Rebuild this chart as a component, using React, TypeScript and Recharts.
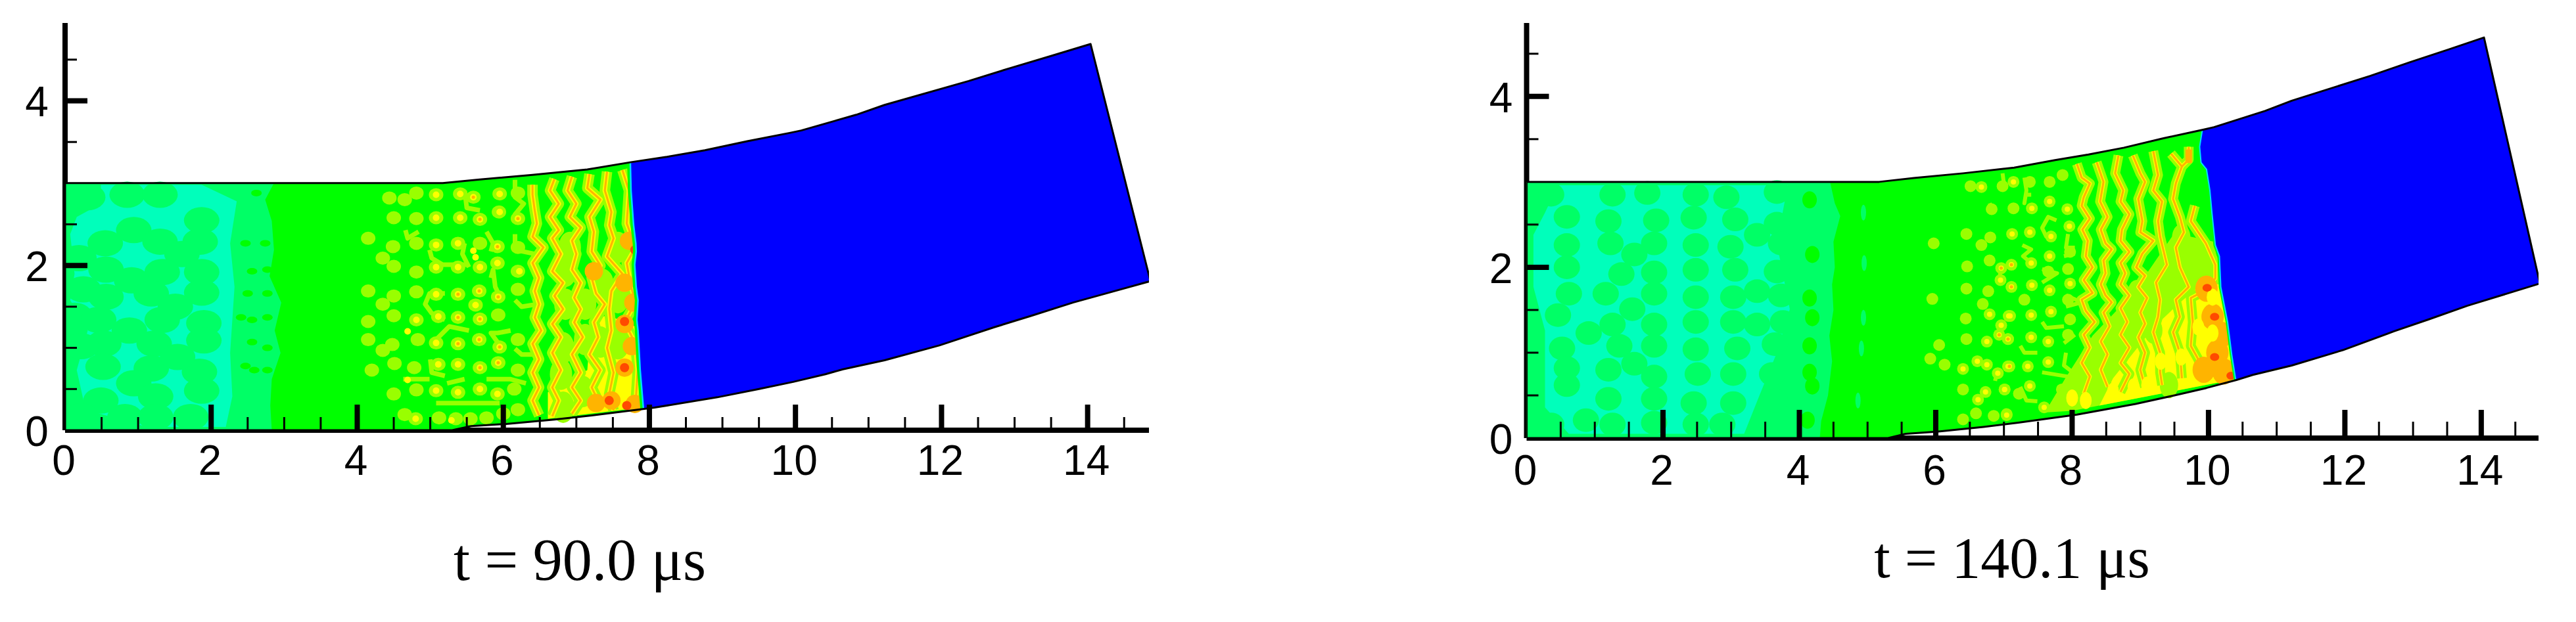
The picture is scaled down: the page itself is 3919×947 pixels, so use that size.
import { ScatterChart, Scatter, XAxis, YAxis } from "recharts";

// Contour snapshots of a detonation front in a bent channel, two time steps.
type Pair = [number, number];
const xy = (list: Pair[]) => list.map(([x, y]) => ({ x, y }));

const xTicks = [0, 0.5, 1, 1.5, 2, 2.5, 3, 3.5, 4, 4.5, 5, 5.5, 6, 6.5, 7, 7.5, 8, 8.5, 9, 9.5, 10, 10.5, 11, 11.5, 12, 12.5, 13, 13.5, 14, 14.5];
const yTicks = [0, 0.5, 1, 1.5, 2, 2.5, 3.5, 4, 4.5];

// channel walls, same geometry in both frames
const wallTop: Pair[] = [[0, 3], [5.17, 3], [5.68, 3.045], [6.4, 3.1], [7.15, 3.166], [7.75, 3.255], [8.24, 3.32], [8.76, 3.4], [9.34, 3.51], [9.92, 3.61], [10.08, 3.64], [10.83, 3.83], [11.22, 3.95], [12.37, 4.24], [12.95, 4.4], [13.52, 4.55], [14.04, 4.69]];
const wallEnd: Pair[] = [[14.86, 1.81]];
const wallBottom: Pair[] = [[14.33, 1.68], [13.8, 1.55], [13.23, 1.39], [12.72, 1.25], [11.97, 1.03], [11.22, 0.85], [10.65, 0.74], [10.41, 0.68], [9.97, 0.587], [9.5, 0.5], [8.93, 0.4], [8.07, 0.275], [7.93, 0.26], [7.21, 0.18], [6.7, 0.13], [6.04, 0.076], [5.56, 0.05], [5.3, 0], [0, 0]];
const wallOutline: Pair[] = [...wallTop, ...wallEnd, ...wallBottom, [0, 3]];

// ---- t = 90.0 frame ----
const earlySpring: Pair[] = [[0, 3], [2.86, 3], [2.74, 2.8], [2.83, 2.54], [2.86, 2.19], [2.8, 1.87], [2.96, 1.55], [2.87, 1.21], [2.95, 0.94], [2.83, 0.62], [2.81, 0.3], [2.83, 0], [0, 0]];
const earlyAqua: Pair[] = [[0.49, 2.98], [1.87, 2.98], [2.35, 2.78], [2.26, 2.27], [2.32, 1.74], [2.26, 0.94], [2.29, 0.41], [2.2, 0.04], [1.12, 0.04], [0.28, 0.25], [0.16, 0.73], [0.31, 1.21], [0.07, 1.58], [0.13, 1.9], [0.07, 2.38], [0.16, 2.59], [0.49, 2.75]];
const earlyBlobs: Pair[] = [[0.31, 2.83], [0.85, 2.86], [1.3, 2.86], [1.87, 2.55], [0.94, 2.43], [0.55, 2.27], [1.3, 2.29], [1.85, 2.29], [1.6, 2.14], [0.19, 2.09], [0.56, 1.95], [1.33, 1.92], [1.87, 1.92], [0.91, 1.82], [0.25, 1.71], [1.18, 1.66], [1.87, 1.67], [0.56, 1.62], [1.51, 1.5], [0.13, 1.39], [0.46, 1.34], [1.33, 1.34], [1.9, 1.3], [0.88, 1.21], [0.53, 1.05], [1.22, 1.05], [1.9, 1.09], [0.22, 1.02], [0.52, 0.77], [1.18, 0.75], [1.84, 0.71], [1.54, 0.89], [0.94, 0.57], [1.87, 0.48], [0.49, 0.36], [1.24, 0.41], [1.24, 0.16], [0.82, 0.16], [0.22, 0.17], [1.72, 0.16]];
const earlyPureBits: Pair[] = [[2.47, 2.27], [2.56, 1.93], [2.5, 1.66], [2.41, 1.37], [2.56, 1.34], [2.56, 1.07], [2.47, 0.78], [2.59, 0.73], [2.62, 2.88], [2.74, 2.27], [2.77, 1.95], [2.77, 1.66], [2.77, 1.37], [2.77, 1.0], [2.77, 0.73]];
const earlyLime: Pair[] = [
  [4.15, 2.33], [4.35, 2.09], [4.15, 1.69], [4.35, 1.53], [4.15, 1.32], [4.15, 1.1], [4.35, 0.97], [4.2, 0.73],
  [4.44, 2.82], [4.65, 2.8], [4.81, 2.88], [5.08, 2.86], [5.41, 2.87], [5.59, 2.83], [5.95, 2.87], [6.2, 2.88],
  [4.5, 2.58], [4.81, 2.57], [5.08, 2.58], [5.41, 2.58], [5.68, 2.56], [5.94, 2.65], [6.2, 2.57],
  [4.49, 2.23], [4.81, 2.27], [5.08, 2.25], [5.38, 2.27], [5.68, 2.27], [5.92, 2.23], [6.2, 2.22],
  [4.5, 1.99], [4.81, 1.92], [5.08, 1.98], [5.38, 1.98], [5.68, 1.98], [5.92, 2.03], [6.2, 1.93],
  [4.5, 1.63], [4.81, 1.68], [5.08, 1.65], [5.38, 1.65], [5.67, 1.69], [5.93, 1.62], [6.2, 1.71],
  [4.5, 1.39], [4.81, 1.34], [5.11, 1.38], [5.38, 1.37], [5.68, 1.35], [5.62, 1.52], [5.93, 1.4],
  [4.48, 1.04], [4.83, 1.1], [5.08, 1.06], [5.38, 1.05], [5.67, 1.1], [5.95, 1.01], [6.2, 1.1],
  [4.51, 0.81], [4.78, 0.76], [5.11, 0.8], [5.38, 0.8], [5.68, 0.76], [5.93, 0.82], [6.2, 0.73],
  [4.5, 0.44], [4.81, 0.49], [5.08, 0.48], [5.38, 0.46], [5.68, 0.5], [5.92, 0.44], [6.15, 0.5],
  [4.65, 0.19], [4.8, 0.14], [5.12, 0.15], [5.35, 0.14], [5.55, 0.14], [5.77, 0.15], [6.0, 0.2], [6.2, 0.25],
];
const earlyLimeLinks: Pair[][] = [
  [[5.2, 1.66], [4.99, 1.66], [4.93, 1.53], [5.02, 1.42], [5.2, 1.34]],
  [[4.99, 2.19], [5.02, 2.09], [5.17, 2.01], [5.5, 2.01]],
  [[5.08, 1.1], [5.26, 1.26], [5.53, 1.21]],
  [[5.08, 0.33], [5.95, 0.33]],
  [[5.47, 2.91], [5.5, 2.7], [5.68, 2.67]],
  [[5.83, 1.85], [5.86, 1.95], [5.89, 1.74], [5.95, 1.63]],
  [[6.16, 3.04], [6.16, 2.83], [6.28, 2.75], [6.16, 2.62], [6.16, 2.54]],
  [[6.16, 2.38], [6.16, 2.19], [6.43, 2.14]],
  [[6.16, 1.58], [6.25, 1.5], [6.46, 1.53]],
  [[6.16, 0.99], [6.25, 0.92], [6.43, 0.92]],
  [[5.77, 0.62], [6.1, 0.62], [6.31, 0.57]],
  [[5.47, 2.27], [5.44, 2.14], [5.53, 1.98]],
  [[5.77, 2.41], [5.86, 2.27], [5.83, 2.17]],
  [[6.1, 1.21], [5.92, 1.18], [5.83, 1.18], [5.92, 1.07]],
  [[5.23, 0.57], [5.47, 0.62]],
  [[4.66, 2.43], [4.69, 2.33], [4.84, 2.41]],
  [[4.63, 0.62], [4.99, 0.62]],
  [[5.0, 0.86], [5.02, 0.7], [5.2, 0.66]],
];
const earlyYellow: Pair[] = [[5.08, 2.86], [5.41, 2.87], [5.95, 2.87], [5.59, 2.83], [5.08, 2.58], [5.41, 2.58], [5.68, 2.56], [6.2, 2.57], [5.95, 2.65], [5.38, 2.27], [5.08, 2.25], [5.59, 2.18], [5.92, 2.23], [5.62, 2.1], [5.38, 1.98], [5.08, 1.98], [5.68, 1.98], [5.92, 2.03], [6.22, 1.93], [5.38, 1.65], [5.08, 1.65], [5.67, 1.69], [5.93, 1.62], [5.62, 1.52], [5.11, 1.38], [5.38, 1.37], [5.68, 1.35], [4.81, 1.34], [4.69, 1.2], [5.08, 1.06], [5.38, 1.05], [5.67, 1.1], [5.95, 1.01], [5.11, 0.8], [5.38, 0.8], [5.68, 0.76], [5.93, 0.82], [4.69, 0.61], [5.08, 0.48], [5.38, 0.46], [5.68, 0.5], [5.92, 0.44], [4.8, 0.14], [5.29, 0.12]];
const earlyOrangeDots: Pair[] = [[5.59, 2.83], [5.68, 2.56], [6.2, 2.57], [5.92, 2.23], [5.38, 1.65], [5.67, 1.69], [5.93, 1.62], [5.38, 1.37], [5.68, 1.35], [5.38, 1.05], [5.67, 1.1], [5.95, 1.01], [5.68, 0.76], [5.93, 0.82]];
const earlyYellowZone: Pair[] = [[7.21, 1.37], [7.45, 1.39], [7.81, 1.26], [7.87, 0.73], [7.93, 0.28], [6.61, 0.14], [6.61, 0.46], [7.15, 0.73]];
const earlyLimePatches: Pair[] = [[7.57, 2.22], [7.57, 1.61], [7.36, 1.77], [7.12, 1.53], [6.85, 1.93], [6.85, 1.53], [6.82, 1.0], [7.12, 1.1], [7.57, 1.05], [7.33, 1.07], [7.09, 0.47], [6.82, 0.28], [6.79, 0.68], [6.91, 2.22]];
const earlyRidges: Pair[][] = [
  [[6.4, 2.98], [6.4, 2.86], [6.43, 2.67], [6.46, 2.51], [6.4, 2.35], [6.55, 2.22], [6.4, 2.03], [6.49, 1.85], [6.43, 1.69], [6.49, 1.53], [6.43, 1.37], [6.52, 1.21], [6.4, 1.05], [6.49, 0.86], [6.4, 0.7], [6.49, 0.52], [6.4, 0.36], [6.49, 0.18]],
  [[6.7, 3.05], [6.64, 2.91], [6.76, 2.75], [6.64, 2.59], [6.76, 2.43], [6.67, 2.33], [6.79, 2.14], [6.67, 1.93], [6.82, 1.79], [6.7, 1.63], [6.82, 1.47], [6.67, 1.29], [6.79, 1.13], [6.67, 0.94], [6.79, 0.73], [6.67, 0.52], [6.76, 0.36], [6.67, 0.17]],
  [[6.94, 3.08], [6.88, 2.91], [7.0, 2.75], [6.91, 2.59], [7.06, 2.46], [6.94, 2.3], [7.0, 2.14], [6.94, 1.95], [7.06, 1.79], [6.97, 1.61], [7.06, 1.47], [6.97, 1.31], [7.09, 1.13], [6.94, 0.92], [7.06, 0.7], [6.94, 0.52], [7.06, 0.36], [6.94, 0.2]],
  [[7.18, 3.11], [7.15, 2.94], [7.33, 2.8], [7.18, 2.59], [7.24, 2.41], [7.21, 2.17], [7.33, 2.0], [7.21, 1.85], [7.27, 1.66], [7.39, 1.53], [7.24, 1.31], [7.3, 1.13], [7.18, 0.92], [7.33, 0.73], [7.21, 0.52], [7.33, 0.3]],
  [[7.42, 3.14], [7.39, 2.91], [7.48, 2.65], [7.45, 2.49], [7.51, 2.33], [7.42, 2.11], [7.63, 1.9], [7.48, 1.69], [7.45, 1.47], [7.48, 1.21], [7.42, 1.0], [7.51, 0.7], [7.45, 0.44], [7.51, 0.24]],
  [[7.63, 3.16], [7.72, 2.91], [7.69, 2.51], [7.81, 2.22], [7.69, 2.03], [7.75, 1.74], [7.81, 1.55], [7.66, 1.31], [7.81, 1.05], [7.84, 0.73], [7.81, 0.3]],
];
const earlyOrange: Pair[] = [[7.66, 1.29], [7.24, 1.93], [7.66, 1.79], [7.78, 1.55], [7.76, 1.02], [7.66, 0.76], [7.27, 0.33], [7.48, 0.36], [7.8, 0.32], [7.72, 2.3]];
const earlyRed: Pair[] = [[7.66, 1.32], [7.66, 0.76], [7.69, 0.3], [7.45, 0.36], [7.8, 2.19]];
const earlyFront: Pair[] = [[7.75, 3.255], [7.76, 2.91], [7.78, 2.67], [7.795, 2.49], [7.825, 2.27], [7.83, 2.17], [7.81, 2.01], [7.83, 1.74], [7.855, 1.58], [7.84, 1.34], [7.855, 1.21], [7.885, 0.73], [7.93, 0.26]];
const earlyUnburnt: Pair[] = [...earlyFront, ...wallBottom.filter(([x]) => x > 7.93).reverse(), ...wallEnd, ...wallTop.filter(([x]) => x > 7.75).reverse()];

// ---- t = 140.1 frame ----
const lateSpring: Pair[] = [[0, 3], [4.45, 3], [4.52, 2.75], [4.6, 2.6], [4.5, 2.3], [4.52, 2.0], [4.48, 1.8], [4.5, 1.5], [4.44, 1.2], [4.48, 0.9], [4.42, 0.5], [4.32, 0.2], [4.3, 0], [0, 0]];
const lateAqua: Pair[] = [[0.46, 2.96], [3.83, 2.96], [3.67, 2.28], [3.86, 1.51], [3.67, 1.0], [3.41, 0.49], [3.19, 0.05], [0.62, 0.05], [0.27, 0.36], [0.27, 0.85], [0.27, 1.26], [0.1, 1.77], [0.1, 2.38], [0.27, 2.64]];
const lateBlobs: Pair[] = [
  [0.36, 2.85], [1.26, 2.85], [1.77, 2.87], [2.48, 2.85], [2.93, 2.82], [3.67, 2.88],
  [0.59, 2.59], [1.2, 2.54], [1.9, 2.55], [2.45, 2.58], [3.06, 2.56], [3.67, 2.51],
  [0.59, 2.26], [1.23, 2.28], [1.87, 2.28], [2.48, 2.26], [2.99, 2.24], [3.38, 2.38], [3.73, 2.28],
  [0.59, 2.0], [1.39, 1.92], [1.87, 1.94], [2.48, 1.97], [3.06, 1.97], [3.67, 1.95], [1.58, 2.15],
  [0.62, 1.69], [1.16, 1.69], [1.87, 1.69], [2.48, 1.65], [3.03, 1.65], [3.38, 1.72], [3.73, 1.67],
  [0.46, 1.44], [1.26, 1.33], [1.87, 1.33], [2.48, 1.36], [3.03, 1.36], [3.38, 1.33], [3.76, 1.36], [1.55, 1.51],
  [0.91, 1.23], [0.52, 1.05], [1.36, 1.08], [1.87, 1.08], [2.48, 1.04], [3.09, 1.05], [3.64, 1.1],
  [0.59, 0.82], [1.2, 0.8], [1.87, 0.72], [2.51, 0.75], [3.03, 0.75], [3.6, 0.75], [1.58, 0.87],
  [0.59, 0.62], [1.2, 0.46], [1.87, 0.46], [2.45, 0.41], [3.03, 0.41], [3.64, 0.44],
  [0.36, 0.16], [1.26, 0.16], [1.87, 0.18], [2.48, 0.16], [2.87, 0.16], [0.87, 0.21],
];
const latePureBits: Pair[] = [[4.15, 2.79], [4.19, 2.15], [4.15, 1.64], [4.19, 1.41], [4.15, 1.08], [4.15, 0.77], [4.19, 0.61], [4.12, 0.21]];
const lateSpringStreaks: Pair[] = [[4.94, 2.64], [4.95, 2.05], [4.94, 1.41], [4.91, 1.05], [4.86, 0.44]];
const lateLime: Pair[] = [
  [6.51, 2.95], [6.67, 2.94], [6.82, 2.68], [6.98, 2.95], [6.45, 2.39], [6.8, 2.35], [6.67, 2.26], [5.97, 2.28], [6.79, 2.08], [6.46, 2.01],
  [6.96, 1.99], [6.45, 1.75], [6.77, 1.72], [6.95, 1.85], [6.69, 1.57], [6.79, 1.45], [6.44, 1.4], [6.96, 1.32], [6.93, 1.21], [6.75, 1.13],
  [6.45, 1.16], [7.07, 1.43], [7.06, 1.16], [5.92, 0.93], [6.61, 0.9], [6.75, 0.86], [7.06, 0.84], [6.4, 0.81], [6.91, 0.76], [6.4, 0.57],
  [6.73, 0.54], [7.01, 0.57], [6.62, 0.45], [7.04, 0.27], [6.4, 0.22], [6.59, 0.29], [6.85, 0.26], [6.05, 1.09], [5.95, 1.63], [6.13, 0.86],
  [7.14, 3.0], [7.38, 3.0], [7.67, 3.0], [7.86, 3.08], [7.41, 2.69], [7.67, 2.77], [7.93, 2.68], [7.14, 2.69], [7.12, 2.39], [7.38, 2.41],
  [7.69, 2.36], [7.96, 2.48], [7.67, 2.13], [7.4, 2.05], [7.11, 2.03], [7.41, 1.79], [7.11, 1.77], [7.67, 1.73], [7.97, 1.81], [7.4, 1.44],
  [7.09, 1.43], [7.69, 1.48], [7.3, 1.62], [7.4, 1.18], [7.06, 1.16], [7.65, 1.13], [7.08, 0.84], [7.35, 0.84], [7.65, 0.89], [7.38, 0.61],
  [7.01, 0.57], [7.22, 0.52], [7.59, 0.36], [7.85, 0.57], [7.04, 0.28], [7.97, 2.18], [7.94, 1.98], [7.65, 1.95], [7.94, 1.62], [7.97, 1.39], [7.94, 1.21],
];
const lateLimeLinks: Pair[][] = [
  [[7.3, 3.05], [7.33, 2.9], [7.3, 2.75], [7.32, 2.85], [7.4, 2.85]],
  [[7.65, 2.59], [7.56, 2.46], [7.62, 2.36], [7.72, 2.36]],
  [[7.56, 2.46], [7.65, 2.59], [7.77, 2.55]],
  [[7.27, 2.26], [7.4, 2.21], [7.28, 2.13], [7.4, 2.05]],
  [[7.56, 1.98], [7.78, 1.93], [7.56, 1.82]],
  [[7.94, 2.39], [7.91, 2.23], [8.04, 2.23]],
  [[7.88, 2.13], [8.04, 2.16]],
  [[7.91, 1.67], [8.14, 1.59], [7.91, 1.54]],
  [[7.56, 1.36], [7.62, 1.29], [7.88, 1.31]],
  [[7.88, 1.11], [8.04, 1.21]],
  [[7.24, 1.08], [7.3, 1.0], [7.49, 1.0]],
  [[7.91, 1.0], [7.88, 0.85], [8.04, 0.75], [7.97, 0.6]],
  [[7.56, 0.77], [7.94, 0.72]],
  [[7.24, 0.6], [7.33, 0.44], [7.49, 0.43]],
  [[7.81, 0.52], [8.04, 0.49], [7.81, 0.44]],
  [[6.98, 3.1], [7.01, 2.92]],
  [[6.79, 2.75], [6.85, 2.62]],
  [[6.95, 1.98], [6.93, 1.8]],
  [[6.95, 1.36], [6.92, 1.18]],
  [[6.91, 0.8], [6.87, 0.67]],
];
const lateYellow: Pair[] = [[6.67, 2.94], [6.96, 1.99], [6.95, 1.85], [6.79, 1.45], [6.96, 1.32], [6.93, 1.21], [6.75, 1.13], [7.07, 1.43], [7.06, 1.16], [6.61, 0.9], [6.75, 0.86], [7.06, 0.84], [6.91, 0.76], [6.4, 0.81], [6.73, 0.54], [7.01, 0.57], [6.62, 0.45], [7.04, 0.27], [7.14, 3.0], [7.41, 2.69], [7.67, 2.77], [7.93, 2.68], [7.12, 2.39], [7.38, 2.41], [7.69, 2.36], [7.96, 2.48], [7.67, 2.13], [7.4, 2.05], [7.11, 2.03], [7.41, 1.79], [7.11, 1.77], [7.67, 1.73], [7.97, 1.81], [7.4, 1.44], [7.09, 1.43], [7.69, 1.48], [7.4, 1.18], [7.06, 1.16], [7.65, 1.13], [7.08, 0.84], [7.35, 0.84], [7.65, 0.89], [7.38, 0.61], [7.01, 0.57], [7.59, 0.36], [7.85, 0.57]];
const lateOrangeDots: Pair[] = [[6.96, 1.99], [6.93, 1.21], [7.11, 2.03], [7.11, 1.77], [7.06, 1.16], [7.08, 0.84]];
const lateLimeZone: Pair[] = [[8.3, 1.2], [8.9, 1.7], [9.5, 2.4], [10.08, 2.3], [10.29, 1.36], [10.4, 0.69], [8.0, 0.32], [7.6, 0.3], [7.9, 0.7]];
const lateYellowZone: Pair[] = [[9.2, 1.3], [9.6, 1.6], [9.9, 1.8], [10.16, 1.8], [10.29, 1.36], [10.4, 0.69], [8.4, 0.38], [8.6, 0.7]];
const lateLimePatches: Pair[] = [[9.9, 2.0], [9.64, 2.13], [9.39, 1.8], [9.16, 1.62], [8.84, 1.21], [8.62, 1.0], [9.19, 1.26], [9.42, 0.62], [8.95, 1.7], [9.6, 2.35], [8.4, 0.85]];
const lateRidges: Pair[][] = [
  [[8.07, 3.21], [8.14, 3.05], [8.26, 2.98], [8.17, 2.82], [8.14, 2.72], [8.26, 2.57], [8.15, 2.44], [8.23, 2.31], [8.2, 2.13], [8.3, 2.0], [8.17, 1.85], [8.3, 1.7], [8.14, 1.62], [8.2, 1.49], [8.33, 1.36], [8.17, 1.21], [8.26, 1.06], [8.14, 0.88], [8.26, 0.72], [8.17, 0.52]],
  [[8.36, 3.23], [8.46, 3.0], [8.41, 2.77], [8.52, 2.59], [8.42, 2.44], [8.49, 2.28], [8.58, 2.21], [8.46, 2.08], [8.49, 1.93], [8.42, 1.8], [8.49, 1.67], [8.58, 1.59], [8.46, 1.47], [8.55, 1.31], [8.42, 1.13], [8.52, 0.98], [8.42, 0.8], [8.52, 0.6]],
  [[8.68, 3.31], [8.63, 3.1], [8.75, 2.9], [8.71, 2.77], [8.84, 2.62], [8.73, 2.44], [8.71, 2.31], [8.84, 2.18], [8.71, 2.05], [8.78, 1.93], [8.71, 1.8], [8.84, 1.67], [8.71, 1.52], [8.81, 1.36], [8.71, 1.21], [8.84, 1.06], [8.71, 0.88], [8.84, 0.75], [8.71, 0.54]],
  [[8.89, 3.31], [9.0, 3.1], [9.07, 3.0], [8.97, 2.8], [9.0, 2.67], [9.03, 2.54], [9.0, 2.41], [9.19, 2.31], [9.03, 2.16], [8.94, 2.0], [9.07, 1.9], [8.97, 1.77], [9.1, 1.64], [9.0, 1.47], [9.07, 1.34], [8.97, 1.18], [9.07, 1.0], [9.0, 0.8], [9.07, 0.6]],
  [[9.19, 3.36], [9.26, 3.08], [9.19, 2.9], [9.32, 2.77], [9.26, 2.54], [9.29, 2.36], [9.39, 2.03], [9.23, 1.82], [9.29, 1.62], [9.26, 1.42], [9.19, 1.24], [9.29, 1.0], [9.29, 0.77], [9.32, 0.62]],
  [[9.45, 3.33], [9.61, 3.18], [9.52, 2.98], [9.48, 2.8], [9.58, 2.59], [9.64, 2.41], [9.52, 2.23], [9.58, 2.0], [9.71, 1.77], [9.52, 1.62], [9.58, 1.42], [9.48, 1.24], [9.58, 1.0], [9.61, 0.7]],
  [[9.8, 2.72], [9.74, 2.54], [9.96, 2.28], [10.1, 2.03], [10.1, 1.87], [9.93, 1.72], [9.74, 1.64], [9.77, 1.36], [9.74, 1.08], [9.9, 0.85], [9.93, 0.67]],
  [[9.71, 3.41], [9.71, 3.26], [9.61, 3.18]],
];
const lateTopStreak: Pair[] = [[9.71, 3.38], [9.71, 3.22]];
const lateOrange: Pair[] = [[10.06, 1.42], [10.13, 1.0], [9.93, 0.8], [10.22, 0.78], [9.97, 1.75], [10.19, 1.21]];
const lateYellowCores: Pair[] = [[10.06, 1.65], [10.06, 1.23], [9.85, 1.3], [9.6, 0.95], [9.3, 0.9], [8.0, 0.47], [8.2, 0.44], [8.6, 0.55], [8.9, 0.6], [9.1, 0.62]];
const lateRed: Pair[] = [[10.09, 0.95], [9.98, 1.76], [10.33, 0.73], [10.09, 1.42]];
const lateFront: Pair[] = [[9.92, 3.61], [9.88, 3.41], [9.9, 3.23], [9.98, 3.15], [10.03, 2.9], [10.06, 2.64], [10.11, 2.26], [10.17, 2.13], [10.19, 1.77], [10.29, 1.36], [10.35, 0.98], [10.41, 0.68]];
const lateUnburnt: Pair[] = [...lateFront, ...wallBottom.filter(([x]) => x > 10.41).reverse(), ...wallEnd, ...wallTop.filter(([x]) => x > 9.92).reverse()];

const AQUA = "#00ffbb";
const SPRING = "#00ff66";
const GREEN = "#00ff00";
const LIME = "#99ff00";
const YELLOW = "#ffff00";
const ORANGE = "#ffb400";
const RED = "#ff4a00";
const BLUE = "#0000ff";

const noPoint = () => <g />;

const polygon = (data: Pair[], fill: string, key: string) => (
  <Scatter key={key} data={xy(data)} line={{ fill, stroke: "none", strokeWidth: 0 }} shape={noPoint} isAnimationActive={false} legendType="none" />
);

const polyline = (data: Pair[], stroke: string, width: number, key: string) => (
  <Scatter key={key} data={xy(data)} line={{ fill: "none", stroke, strokeWidth: width, strokeLinejoin: "round" }} shape={noPoint} isAnimationActive={false} legendType="none" />
);

const spots = (data: Pair[], fill: string, rx: number, ry: number, key: string) => (
  <Scatter
    key={key}
    data={xy(data)}
    shape={(p: any) => <ellipse cx={p.cx} cy={p.cy} rx={rx} ry={ry} fill={fill} />}
    isAnimationActive={false}
    legendType="none"
  />
);

function XTick({ x, y, payload, labelDrop, majorLen, minorLen }: any) {
  const v = payload.value;
  const major = v % 2 === 0;
  return (
    <g>
      {v !== 0 && (
        <line x1={x} x2={x} y1={y} y2={y - (major ? majorLen : minorLen)} stroke="#000" strokeWidth={major ? 8 : 3} />
      )}
      {major && (
        <text x={x - 2} y={y + labelDrop} textAnchor="middle" fontFamily="Liberation Sans" fontSize={64} fill="#000">
          {v}
        </text>
      )}
    </g>
  );
}

function YTick({ x, y, payload, labelGap, majorLen, minorLen }: any) {
  const v = payload.value;
  const major = v % 2 === 0;
  return (
    <g>
      {v !== 0 && (
        <line x1={x} x2={x + (major ? majorLen : minorLen)} y1={y} y2={y} stroke="#000" strokeWidth={major ? 8 : 3} />
      )}
      {major && (
        <text x={x - labelGap} y={y + 24} textAnchor="middle" fontFamily="Liberation Sans" fontSize={64} fill="#000">
          {v}
        </text>
      )}
    </g>
  );
}

function Frame({ left, width, margin, yMax, labelDrop, labelGap, majorLen, minorLen, title, titleSize, titleX, titleY, layers }: any) {
  return (
    <div style={{ position: "absolute", left, top: 0 }}>
      <ScatterChart width={width} height={947} margin={margin}>
        {layers}
        <XAxis
          type="number"
          dataKey="x"
          domain={[0, 14.84]}
          ticks={xTicks}
          interval={0}
          height={60}
          allowDataOverflow
          tickSize={0}
          tickMargin={0}
          axisLine={{ stroke: "#000", strokeWidth: 8 }}
          tickLine={false}
          tick={(p: any) => <XTick {...p} labelDrop={labelDrop} majorLen={majorLen} minorLen={minorLen} />}
        />
        <YAxis
          type="number"
          dataKey="y"
          domain={[0, yMax]}
          ticks={yTicks}
          interval={0}
          width={60}
          allowDataOverflow
          tickSize={0}
          tickMargin={0}
          axisLine={{ stroke: "#000", strokeWidth: 8 }}
          tickLine={false}
          tick={(p: any) => <YTick {...p} labelGap={labelGap} majorLen={34} minorLen={18} />}
        />
        <text x={titleX} y={titleY} textAnchor="middle" fontFamily="Liberation Serif" fontSize={titleSize} fill="#000">
          {title}
        </text>
      </ScatterChart>
    </div>
  );
}

const ridgeLayers = (ridges: Pair[][], prefix: string, widths: number[]) => [
  ...ridges.map((r, i) => polyline(r, LIME, widths[0], `${prefix}-a${i}`)),
  ...ridges.map((r, i) => polyline(r, YELLOW, widths[1], `${prefix}-b${i}`)),
  ...ridges.map((r, i) => polyline(r, ORANGE, widths[2], `${prefix}-c${i}`)),
];

const earlyLayers = [
  polygon(wallOutline, GREEN, "e-base"),
  polygon(earlySpring, SPRING, "e-spring"),
  polygon(earlyAqua, AQUA, "e-aqua"),
  spots(earlyBlobs, SPRING, 27, 20, "e-blobs"),
  spots(earlyPureBits, GREEN, 8, 5, "e-bits"),
  ...earlyLimeLinks.map((r, i) => polyline(r, LIME, 7, `e-link${i}`)),
  spots(earlyLime, LIME, 11, 10, "e-lime"),
  spots(earlyYellow, YELLOW, 5, 5, "e-yellow"),
  spots(earlyOrangeDots, ORANGE, 2.5, 2.5, "e-dots"),
  polygon(earlyYellowZone, YELLOW, "e-zone"),
  spots(earlyLimePatches, LIME, 17, 24, "e-patches"),
  ...ridgeLayers(earlyRidges, "e", [16, 7, 3]),
  spots(earlyOrange, ORANGE, 14, 14, "e-orange"),
  spots(earlyRed, RED, 7, 7, "e-red"),
  polyline(earlyFront, GREEN, 12, "e-strip"),
  polyline(earlyFront, "#00ddff", 5, "e-cyan"),
  polygon(earlyUnburnt, BLUE, "e-blue"),
  polyline(wallOutline, "#000", 3, "e-wall"),
];

const lateLayers = [
  polygon(wallOutline, GREEN, "l-base"),
  polygon(lateSpring, SPRING, "l-spring"),
  polygon(lateAqua, AQUA, "l-aqua"),
  spots(lateBlobs, SPRING, 20, 18, "l-blobs"),
  spots(latePureBits, GREEN, 11, 13, "l-bits"),
  spots(lateSpringStreaks, SPRING, 4, 12, "l-streaks"),
  ...lateLimeLinks.map((r, i) => polyline(r, LIME, 6, `l-link${i}`)),
  spots(lateLime, LIME, 9, 9, "l-lime"),
  spots(lateYellow, YELLOW, 4, 4, "l-yellow"),
  spots(lateOrangeDots, ORANGE, 2.5, 2.5, "l-dots"),
  polygon(lateLimeZone, LIME, "l-limezone"),
  polygon(lateYellowZone, YELLOW, "l-zone"),
  spots(lateLimePatches, LIME, 14, 20, "l-patches"),
  ...ridgeLayers(lateRidges, "l", [15, 6, 3]),
  polyline(lateTopStreak, ORANGE, 10, "l-top"),
  spots(lateOrange, ORANGE, 17, 20, "l-orange"),
  spots(lateYellowCores, YELLOW, 9, 13, "l-cores"),
  spots(lateRed, RED, 7, 6, "l-red"),
  polyline(lateFront, GREEN, 8, "l-strip"),
  polyline(lateFront, "#00ddff", 4, "l-cyan"),
  polygon(lateUnburnt, BLUE, "l-blue"),
  polyline(wallOutline, "#000", 3, "l-wall"),
];

export default function App() {
  return (
    <div style={{ position: "absolute", left: 0, top: 0, width: 3919, height: 947, background: "#fff", overflow: "hidden" }}>
      <Frame
        left={0}
        width={1800}
        margin={{ top: 35, right: 52, bottom: 232, left: 39 }}
        yMax={4.945}
        labelDrop={68}
        labelGap={43}
        majorLen={39}
        minorLen={20}
        title="t = 90.0 μs"
        titleSize={90}
        titleX={882}
        titleY={883}
        layers={earlyLayers}
      />
      <Frame
        left={2200}
        width={1700}
        margin={{ top: 35, right: 38, bottom: 220, left: 62.5 }}
        yMax={4.86}
        labelDrop={71}
        labelGap={39}
        majorLen={43}
        minorLen={25}
        title="t = 140.1 μs"
        titleSize={88}
        titleX={861}
        titleY={879}
        layers={lateLayers}
      />
    </div>
  );
}
